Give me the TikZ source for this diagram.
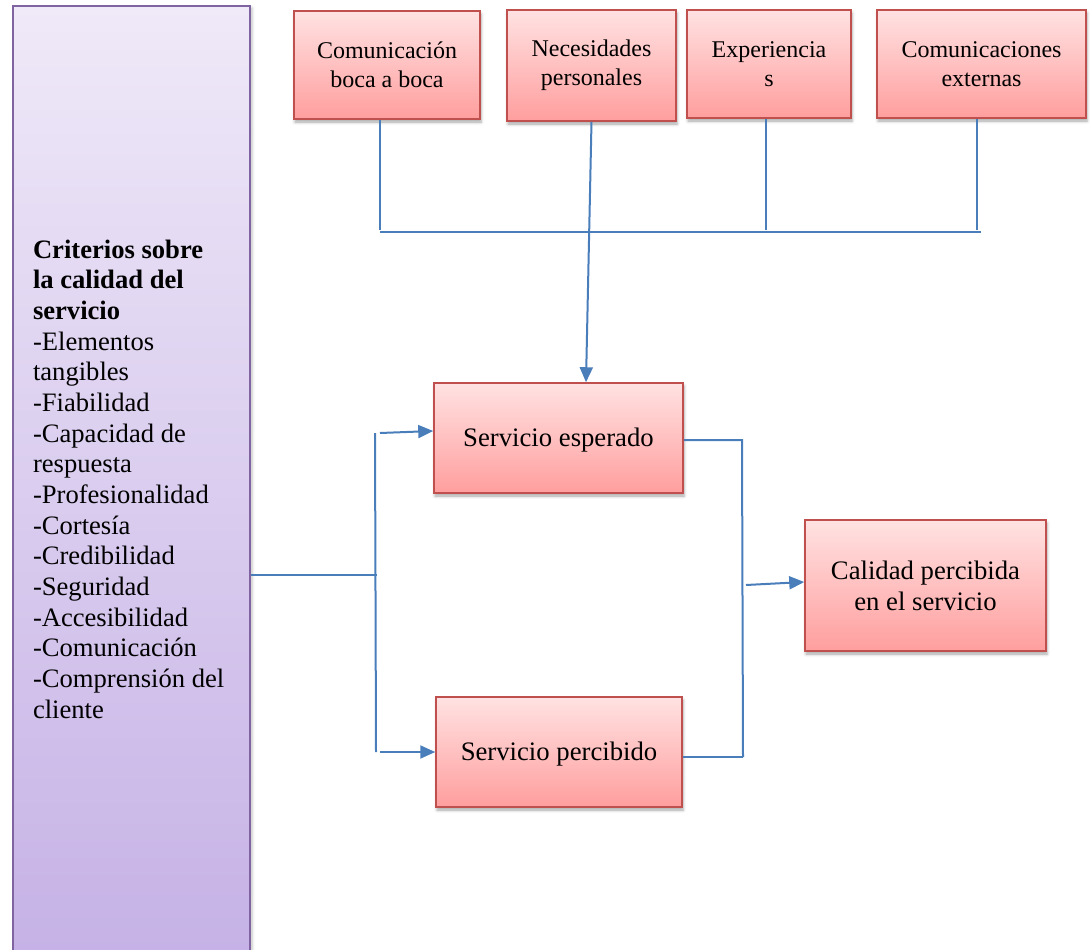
\documentclass[tikz,border=0pt]{standalone}
\usepackage{fontspec}
\setmainfont{Liberation Serif}
\usetikzlibrary{arrows.meta,shadows.blur}

\definecolor{linkblue}{HTML}{4A7EBB}
\definecolor{boxred}{HTML}{C0504D}
\definecolor{pinktop}{HTML}{FFE2E2}
\definecolor{pinkbot}{HTML}{FF9E9E}
\definecolor{lilactop}{HTML}{EFE9F8}
\definecolor{lilacbot}{HTML}{C6B2E6}
\definecolor{lilacline}{HTML}{8064A2}

\begin{document}
\begin{tikzpicture}[x=1pt,y=-1pt,
  pinkbox/.style={draw=boxred, line width=1.5pt, top color=pinktop,
    bottom color=pinkbot, align=center, inner sep=0pt,
    blur shadow={shadow xshift=1pt, shadow yshift=-3pt,
      shadow blur radius=3pt, shadow opacity=35}},
  topbox/.style={pinkbox, font=\fontsize{24}{29}\selectfont},
  midbox/.style={pinkbox, font=\fontsize{26.7}{31}\selectfont},
  critbox/.style={draw=lilacline, line width=1.5pt, top color=lilactop,
    bottom color=lilacbot, align=flush left, text width=197pt,
    inner xsep=20pt, inner ysep=0pt, minimum height=946pt,
    font=\fontsize{26.6}{30.67}\selectfont,
    blur shadow={shadow xshift=2pt, shadow yshift=-2pt,
      shadow blur radius=3pt, shadow opacity=25}},
  link/.style={draw=linkblue, line width=2pt},
  flow/.style={link, -{Triangle[length=15pt,width=13pt]}}]

\useasboundingbox (0,0) rectangle (1092,950);

% criteria panel on the left
\node[critbox] (crit) at (131.5,479) {\textbf{Criterios sobre}\\
  \textbf{la calidad del}\\ \textbf{servicio}\\
  -Elementos\\ tangibles\\ -Fiabilidad\\ -Capacidad de\\ respuesta\\
  -Profesionalidad\\ -Cortesía\\ -Credibilidad\\ -Seguridad\\
  -Accesibilidad\\ -Comunicación\\ -Comprensión del\\ cliente};

% four sources of expectation
\node[topbox, minimum width=186pt, minimum height=108pt] (c1) at (387,65)
  {Comunicación\\ boca a boca};
\node[topbox, minimum width=169pt, minimum height=111pt] (c2) at (591.5,65.5)
  {Necesidades\\ personales};
\node[topbox, minimum width=164pt, minimum height=108pt] (c3) at (769,64)
  {Experiencia\\ s};
\node[topbox, minimum width=209pt, minimum height=108pt] (c4) at (981.5,64)
  {Comunicaciones\\ externas};

% service boxes
\node[midbox, minimum width=249pt, minimum height=110pt, text depth=2pt] (esp) at (558.5,438)
  {Servicio esperado};
\node[midbox, minimum width=246pt, minimum height=110pt, text depth=2pt] (perc) at (559,752)
  {Servicio percibido};
\node[midbox, minimum width=241pt, minimum height=131pt] (cal) at (925.5,585.5)
  {Calidad percibida\\ en el servicio};

% collector bar under the top row
\coordinate (t1) at (380,230);
\coordinate (t3) at (766,230);
\coordinate (t4) at (977,230);
\coordinate (hl) at (380,232);
\coordinate (hr) at (981,232);
\coordinate (ein) at (586,0);
\draw[link] (c1.south -| t1) -- (t1);
\draw[link] (c3.south -| t3) -- (t3);
\draw[link] (c4.south -| t4) -- (t4);
\draw[link] (hl) -- (hr);
\draw[flow] (c2.south) -- (esp.north -| ein);

% left bracket from the criteria panel
\coordinate (jl) at (377,575);
\coordinate (vt) at (375,433);
\coordinate (vb) at (376,752);
\coordinate (at) at (380,433);
\coordinate (ab) at (380,752);
\draw[link] (crit.east |- jl) -- (jl);
\draw[link] (vt) -- (vb);
\draw[flow] (at) -- (esp.west |- 0,431);
\draw[flow] (ab) -- (perc.west |- 0,752);

% right bracket into perceived quality
\coordinate (rt) at (742,440);
\coordinate (rb) at (743,757);
\coordinate (ac) at (746,585);
\draw[link] (esp.east |- rt) -- (rt) -- (rb);
\draw[link] (perc.east |- rb) -- (rb);
\draw[flow] (ac) -- (cal.west |- 0,582);

\end{tikzpicture}
\end{document}
